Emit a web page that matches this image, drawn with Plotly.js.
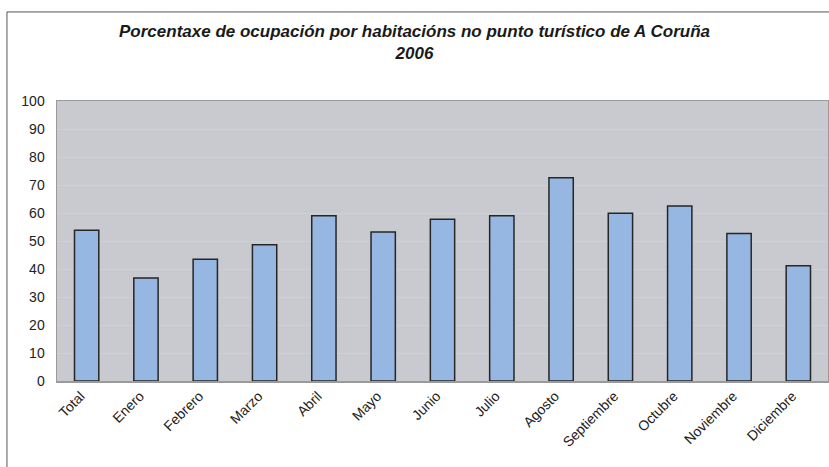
<!DOCTYPE html>
<html>
<head>
<meta charset="utf-8">
<script src="https://cdn.plot.ly/plotly-3.0.1.min.js"></script>
<style>html,body{margin:0;padding:0;background:#fff;}</style>
</head>
<body>
<div id="chart" style="width:829px;height:467px;"></div>
<script>
const categories = ["Total","Enero","Febrero","Marzo","Abril","Mayo","Junio","Julio","Agosto","Septiembre","Octubre","Noviembre","Diciembre"];
const occupancy = [53.8, 36.8, 43.5, 48.7, 59.0, 53.2, 57.8, 59.0, 72.6, 59.9, 62.5, 52.7, 41.2];
const yTicks = [0,10,20,30,40,50,60,70,80,90,100];
const titleText = "Porcentaxe de ocupación por habitacións no punto turístico de A Coruña<br>2006";

const trace = {
  type: "bar",
  x: categories,
  y: occupancy,
  marker: {color: "#96b7e1", line: {color: "#262626", width: 1.5}},
  hoverinfo: "x+y"
};

const layout = {
  width: 829, height: 467,
  margin: {l: 57, r: 1, t: 101, b: 86},
  paper_bgcolor: "#ffffff",
  plot_bgcolor: "#c9cacf",
  font: {family: "Liberation Sans, Arial, sans-serif", color: "#222222", size: 14},
  title: {
    text: titleText,
    font: {family: "Liberation Sans, Arial, sans-serif", size: 17, color: "#1a1a1a", weight: "bold", style: "italic"},
    x: 0.5, xanchor: "center", xref: "container",
    y: 0.921, yanchor: "middle", yref: "container"
  },
  bargap: 0.59,
  showlegend: false,
  xaxis: {
    type: "category",
    tickangle: -45,
    showline: true, linecolor: "#9a9a9a", linewidth: 1.5, mirror: true,
    ticks: "", showgrid: false,
    ticklabelshift: -6,
    ticklabelstandoff: 0,
    tickfont: {size: 14, color: "#222222"}
  },
  yaxis: {
    range: [0, 100],
    tickvals: yTicks,
    ticktext: yTicks.map(String),
    showline: true, linecolor: "#9a9a9a", linewidth: 1.5, mirror: true,
    ticks: "", showgrid: true, gridcolor: "#d0d1d5", gridwidth: 1,
    zeroline: false,
    ticklabelstandoff: 8,
    tickfont: {size: 14, color: "#222222"}
  },
  shapes: [
    {type: "line", xref: "paper", yref: "paper", x0: -0.0649, x1: -0.0649, y0: 1.318, y1: -0.4, line: {color: "#555555", width: 1}},
    {type: "line", xref: "paper", yref: "paper", x0: -0.0649, x1: 1.01, y0: 1.318, y1: 1.318, line: {color: "#555555", width: 1}}
  ]
};

Plotly.newPlot("chart", [trace], layout, {displayModeBar: false, staticPlot: true});
</script>
</body>
</html>
